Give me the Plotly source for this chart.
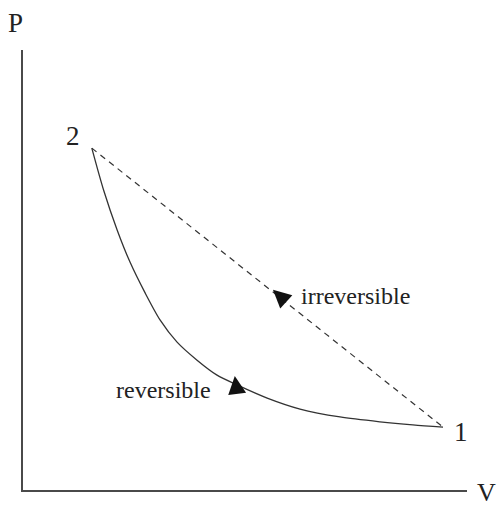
import plotly.graph_objects as go

# State points (V, P)
state_labels = ["2", "1"]
state_V = [1.55, 9.46]
state_P = [7.77, 1.43]

# Reversible path (curve from 2 to 1)
rev_V = [1.55, 1.82, 2.12, 2.41, 2.75, 3.09, 3.47, 3.92, 4.37, 4.82, 5.50, 6.24, 7.14, 8.04, 8.78, 9.46]
rev_P = [7.77, 6.80, 5.91, 5.18, 4.48, 3.86, 3.36, 2.95, 2.61, 2.39, 2.09, 1.84, 1.66, 1.55, 1.48, 1.43]

# Irreversible path (straight line from 2 to 1)
irr_V = [1.55, 9.46]
irr_P = [7.77, 1.43]

# Arrow tips (V, P)
arrow_V = [5.63, 4.77]
arrow_P = [4.55, 2.59]

LINE = "#333333"
FONT = "Liberation Serif"

fig = go.Figure()
fig.add_trace(go.Scatter(x=irr_V, y=irr_P, mode="lines",
                         line=dict(color=LINE, width=1.2, dash="6px,5px"),
                         hoverinfo="skip", showlegend=False))
fig.add_trace(go.Scatter(x=rev_V, y=rev_P, mode="lines",
                         line=dict(color=LINE, width=1.3, shape="spline", smoothing=0.8),
                         hoverinfo="skip", showlegend=False))

annotations = []
# arrowheads
for (v, p, ax, ay) in [(arrow_V[0], arrow_P[0], 11, 10), (arrow_V[1], arrow_P[1], 2, 15)]:
    annotations.append(dict(x=v, y=p, xref="x", yref="y", text="", showarrow=True,
                            arrowhead=2, arrowsize=3.0, arrowwidth=1.2, arrowcolor="#111",
                            ax=ax, ay=ay))
# state labels
annotations.append(dict(x=1.13, y=8.05, xref="x", yref="y", text=state_labels[0], showarrow=False,
                        font=dict(family=FONT, size=27, color="#222")))
annotations.append(dict(x=9.86, y=1.32, xref="x", yref="y", text=state_labels[1], showarrow=False,
                        font=dict(family=FONT, size=27, color="#222")))
# path labels
annotations.append(dict(x=6.22, y=4.41, xref="x", yref="y", text="irreversible", showarrow=False,
                        xanchor="left", font=dict(family=FONT, size=24, color="#222")))
annotations.append(dict(x=4.28, y=2.27, xref="x", yref="y", text="reversible", showarrow=False,
                        xanchor="right", font=dict(family=FONT, size=24, color="#222")))
# axis labels
annotations.append(dict(x=-0.016, y=1.061, xref="paper", yref="paper", text="P", showarrow=False,
                        xanchor="center", yanchor="middle",
                        font=dict(family=FONT, size=27, color="#222")))
annotations.append(dict(x=1.043, y=-0.04, xref="paper", yref="paper", text="V", showarrow=False,
                        xanchor="center", yanchor="bottom", borderpad=0,
                        font=dict(family=FONT, size=26, color="#222")))

axis_common = dict(range=[0, 10], showgrid=False, zeroline=False, showticklabels=False,
                   ticks="", showline=True, linecolor="#4a4a4a", linewidth=2, fixedrange=True)

fig.update_layout(
    width=498, height=509,
    margin=dict(l=23, r=31, t=50, b=19),
    paper_bgcolor="white", plot_bgcolor="white",
    xaxis=axis_common, yaxis=axis_common,
    annotations=annotations,
    showlegend=False,
)

fig.write_html("out.html", config={"displayModeBar": False},
               post_script="document.body.style.margin='0';document.body.style.overflow='hidden';")
